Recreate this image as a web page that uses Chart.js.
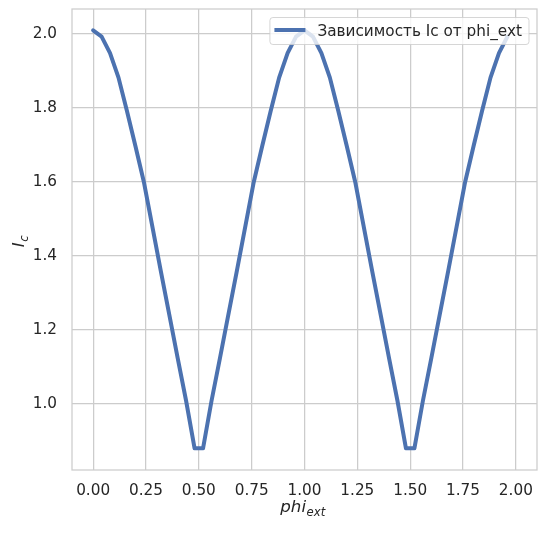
<!DOCTYPE html>
<html>
<head>
<meta charset="utf-8">
<script src="https://cdn.jsdelivr.net/npm/chart.js@4"></script>
<style>
  html, body { margin: 0; padding: 0; background: #fff; }
</style>
</head>
<body>
<canvas id="myChart" width="546" height="534"></canvas>
<script>
// phi_ext values (x) and critical current Ic (y)
var phiExt = [
  0.00, 0.04, 0.08, 0.12, 0.16, 0.20, 0.24, 0.28, 0.32, 0.36,
  0.40, 0.44, 0.48, 0.52, 0.56, 0.60, 0.64, 0.68, 0.72, 0.76,
  0.80, 0.84, 0.88, 0.92, 0.96, 1.00, 1.04, 1.08, 1.12, 1.16,
  1.20, 1.24, 1.28, 1.32, 1.36, 1.40, 1.44, 1.48, 1.52, 1.56,
  1.60, 1.64, 1.68, 1.72, 1.76, 1.80, 1.84, 1.88, 1.92, 1.96
];
var icValues = [
  2.010, 1.993, 1.948, 1.882, 1.792, 1.697, 1.600, 1.480, 1.360, 1.242,
  1.124, 1.008, 0.880, 0.880, 1.008, 1.124, 1.242, 1.360, 1.480, 1.600,
  1.697, 1.792, 1.882, 1.948, 1.993, 2.010, 1.993, 1.948, 1.882, 1.792,
  1.697, 1.600, 1.480, 1.360, 1.242, 1.124, 1.008, 0.880, 0.880, 1.008,
  1.124, 1.242, 1.360, 1.480, 1.600, 1.697, 1.792, 1.882, 1.948, 1.993
];
var xTicks = [0, 0.25, 0.5, 0.75, 1.0, 1.25, 1.5, 1.75, 2.0];
var yTicks = [1.0, 1.2, 1.4, 1.6, 1.8, 2.0];
var legendLabel = 'Зависимость Ic от phi_ext';

var lineColor = '#4c72b0';
var textColor = '#262626';
var gridColor = '#cccccc';
var fontFamily = "'DejaVu Sans', sans-serif";
var fontSize = 15.28;
var titleSize = 16.67;

Chart.defaults.font.family = fontFamily;
Chart.defaults.font.size = fontSize;
Chart.defaults.color = textColor;

var points = phiExt.map(function (x, i) { return { x: x, y: icValues[i] }; });

// axis titles (with subscripts), spines and legend box
var extras = {
  id: 'extras',
  afterDatasetsDraw: function (chart) {
    var ctx = chart.ctx;
    var area = chart.chartArea;
    ctx.save();

    // spines
    ctx.strokeStyle = gridColor;
    ctx.lineWidth = 1.25;
    ctx.strokeRect(area.left, area.top, area.right - area.left, area.bottom - area.top);

    // legend
    ctx.font = fontSize + 'px ' + fontFamily;
    var tw = ctx.measureText(legendLabel).width;
    var boxRight = area.right - 8;
    var textRight = boxRight - 7;
    var textLeft = textRight - tw;
    var lineRight = textLeft - 12;
    var lineLeft = lineRight - 31;
    var boxLeft = lineLeft - 4.5;
    var boxTop = 17.5, boxBottom = 44.5;
    ctx.beginPath();
    ctx.roundRect(boxLeft, boxTop, boxRight - boxLeft, boxBottom - boxTop, 3);
    ctx.fillStyle = 'rgba(255,255,255,0.8)';
    ctx.fill();
    ctx.strokeStyle = 'rgba(204,204,204,0.8)';
    ctx.lineWidth = 1;
    ctx.stroke();
    ctx.beginPath();
    ctx.moveTo(lineLeft, 30);
    ctx.lineTo(lineRight, 30);
    ctx.strokeStyle = lineColor;
    ctx.lineWidth = 4;
    ctx.stroke();
    ctx.fillStyle = textColor;
    ctx.textBaseline = 'alphabetic';
    ctx.textAlign = 'left';
    ctx.fillText(legendLabel, textLeft, 36);

    // x axis title: phi_ext
    var cx = (area.left + area.right) / 2 - 2;
    var big = 'italic ' + titleSize + 'px ' + fontFamily;
    var small = 'italic ' + (titleSize * 0.7) + 'px ' + fontFamily;
    ctx.font = big;
    var w1 = ctx.measureText('phi').width;
    ctx.font = small;
    var w2 = ctx.measureText('ext').width;
    var x0 = cx - (w1 + w2) / 2;
    ctx.font = big;
    ctx.fillText('phi', x0, 512);
    ctx.font = small;
    ctx.fillText('ext', x0 + w1 + 0.5, 515.5);

    // y axis title: I_c
    ctx.translate(24, (area.top + area.bottom) / 2 + 2);
    ctx.rotate(-Math.PI / 2);
    ctx.font = big;
    var v1 = ctx.measureText('I').width;
    ctx.font = small;
    var v2 = ctx.measureText('c').width;
    var y0 = -(v1 + v2) / 2;
    ctx.font = big;
    ctx.fillText('I', y0, 0);
    ctx.font = small;
    ctx.fillText('c', y0 + v1 + 0.5, 3.5);

    ctx.restore();
  }
};

var ctx = document.getElementById('myChart').getContext('2d');
var icChart = new Chart(ctx, {
  type: 'line',
  data: {
    datasets: [{
      label: legendLabel,
      data: points,
      borderColor: lineColor,
      backgroundColor: lineColor,
      borderWidth: 4,
      borderJoinStyle: 'round',
      borderCapStyle: 'round',
      pointRadius: 0,
      tension: 0,
      fill: false
    }]
  },
  options: {
    responsive: false,
    animation: false,
    layout: { padding: { left: 0, right: 9, top: 9, bottom: 0 } },
    scales: {
      x: {
        type: 'linear',
        min: -0.1,
        max: 2.1,
        afterBuildTicks: function (scale) {
          scale.ticks = xTicks.map(function (v) { return { value: v }; });
        },
        afterFit: function (scale) {
          scale.height = 64;
          scale.paddingLeft = 0;
          scale.paddingRight = 0;
        },
        ticks: {
          padding: 12,
          maxRotation: 0,
          callback: function (v) { return v.toFixed(2); }
        },
        grid: { color: gridColor, lineWidth: 1.25, drawTicks: false },
        border: { display: false }
      },
      y: {
        type: 'linear',
        min: 0.8215,
        max: 2.0675,
        afterBuildTicks: function (scale) {
          scale.ticks = yTicks.map(function (v) { return { value: v }; });
        },
        afterFit: function (scale) {
          scale.width = 72;
          scale.paddingTop = 0;
          scale.paddingBottom = 0;
        },
        ticks: {
          padding: 15,
          callback: function (v) { return v.toFixed(1); }
        },
        grid: { color: gridColor, lineWidth: 1.25, drawTicks: false },
        border: { display: false }
      }
    },
    plugins: {
      legend: { display: false },
      tooltip: { enabled: false }
    }
  },
  plugins: [extras]
});
</script>
</body>
</html>
